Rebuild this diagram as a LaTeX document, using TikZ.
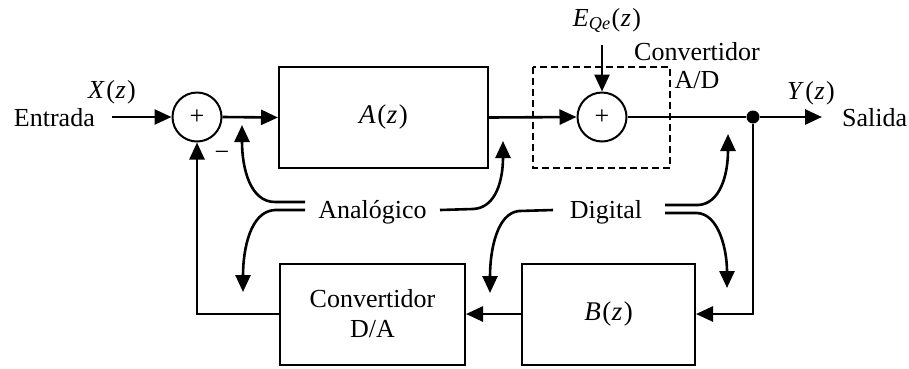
\documentclass[tikz,border=0pt]{standalone}
\usepackage{fontspec}
\setmainfont{Liberation Serif}
\usetikzlibrary{arrows.meta}

\tikzset{
  sig/.style={line width=2.6pt, -{Triangle[length=17pt,width=15pt]}},
  wire/.style={line width=2.6pt},
  block/.style={draw, line width=2pt, inner sep=0pt, minimum height=101pt,
    align=center, font=\fontsize{26}{30}\selectfont},
  summer/.style={draw, circle, line width=2pt, minimum size=49pt, inner sep=0pt,
    font=\fontsize{26}{30}\selectfont},
  lbl/.style={font=\fontsize{26}{28}\selectfont, inner sep=0pt},
  sym/.style={font=\fontsize{26}{30}\selectfont, inner sep=0pt},
  adbox/.style={draw, dashed, dash pattern=on 7pt off 4pt, line width=1.8pt},
}
\newcommand{\vi}[1]{\textit{#1}}
\newcommand{\fz}[1]{\vi{#1}\kern1.5pt(\kern0.5pt\vi{z}\kern1.5pt)}

\begin{document}
\begin{tikzpicture}[x=1pt, y=-1pt]
\useasboundingbox (0,0) rectangle (909,368);

% forward path
\node[lbl, anchor=base east] (in) at (95,126) {Entrada};
\node[sym, anchor=base] (xz) at (112,98) {\fz{X}};
\coordinate (instart) at (112,117);
\node[summer] (s1) at (197,117) {+};
\node[block, minimum width=209pt, font=\fontsize{27}{30}\selectfont] (A) at (383.5,117.5) {\fz{A}};
\draw[adbox] (533,67) rectangle (670,168);
\node[summer] (s2) at (602,117) {+};
\node[sym, anchor=base] (eq) at (607,26) {\vi{E}\textsubscript{\vi{Qe}}\kern1pt(\kern0.5pt\vi{z}\kern1.5pt)};
\coordinate (eqstart) at (602,45);
\node[lbl, anchor=north, align=center] (adl) at (697,42) {Convertidor\\A/D};
\node[circle, fill, inner sep=0pt, minimum size=13pt] (dot) at (753,117) {};
\coordinate (outend) at (822,117);
\node[sym, anchor=base] (yz) at (811,99) {\fz{Y}};
\node[lbl, anchor=base west] (out) at (842,126) {Salida};
\node[font=\fontsize{26}{30}\selectfont, inner sep=0pt] (minus) at (222,156) {−};

\draw[sig] (instart) -- (s1.west);
\draw[sig] (s1.east) -- (A.west);
\draw[sig] (A.east) -- (s2.west);
\draw[sig] (eqstart) -- (s2.north);
\draw[wire] (s2.east) -- (dot);
\draw[sig] (dot) -- (outend);

% feedback path
\node[block, minimum width=173pt, font=\fontsize{27}{30}\selectfont] (B) at (608.5,314) {\fz{B}};
\node[block, minimum width=185pt] (DA) at (372.5,314) {Convertidor\\D/A};
\draw[sig] (dot) -- (dot |- B.east) -- (B.east);
\draw[sig] (B.west) -- (DA.east);
\draw[sig] (DA.west) -- (s1 |- DA.west) -- (s1.south);

% domain labels with their pointers
\node[lbl, anchor=base] (ana) at (372.5,218) {Analógico};
\node[lbl, anchor=base] (dig) at (606,218) {Digital};

\coordinate (a1) at (305,202);
\coordinate (a2) at (305,210);
\coordinate (a3) at (440,210);
\coordinate (d1) at (553,210);
\coordinate (d2) at (665,205);
\coordinate (d3) at (665,213);

\draw[sig] (a1) -- (275,202) .. controls (250,202) and (242,168) .. (242,125);
\draw[sig] (a2) -- (275,210) .. controls (250,211) and (243,250) .. (243,292);
\draw[sig] (a3) -- (473,209) .. controls (496,208) and (503,180) .. (503,141);
\draw[sig] (d1) -- (519,211) .. controls (497,213) and (490,250) .. (490,293);
\draw[sig] (d2) -- (698,205) .. controls (720,204) and (728,175) .. (728,134);
\draw[sig] (d3) -- (697,213) .. controls (719,214) and (727,250) .. (727,288);
\end{tikzpicture}
\end{document}
